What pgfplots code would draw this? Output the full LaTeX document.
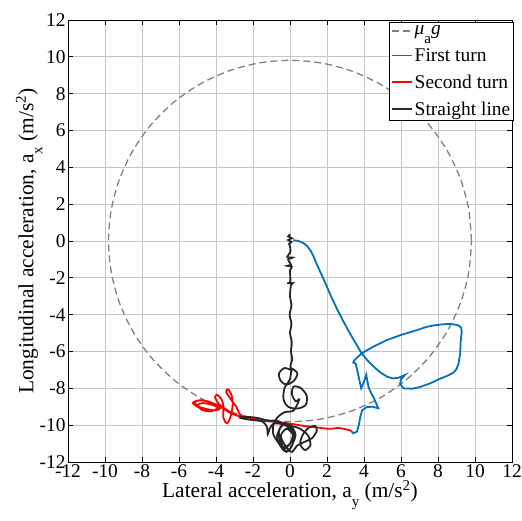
\documentclass[border=0pt]{standalone}
\usepackage{pgfplots}
\pgfplotsset{compat=1.18}
\usepackage{fontspec}
\setmainfont{Liberation Serif}
\definecolor{mblue}{rgb}{0,0.447,0.741}
\definecolor{mblack}{rgb}{0.15,0.15,0.15}
\newcommand{\msub}[1]{\raisebox{-0.42em}{\fontsize{15}{15}\selectfont #1}}
\pgfplotsset{
  my legend line/.style={legend image code/.code={\draw[##1] (0bp,0bp) -- (20bp,0bp);}},
}
\begin{document}
\begin{tikzpicture}[x=1bp,y=1bp]
\useasboundingbox (-68,-59) rectangle (454,462);
\begin{axis}[
  at={(0,0)}, anchor=south west,
  width=444bp, height=442bp, scale only axis,
  xmin=-12, xmax=12, ymin=-12, ymax=12,
  xtick={-12,-10,...,12}, ytick={-12,-10,...,12},
  xticklabels={-12,-10,-8,-6,-4,-2,0,2,4,6,8,10,12},
  yticklabels={-12,-10,-8,-6,-4,-2,0,2,4,6,8,10,12},
  grid=major, major grid style={black!22, line width=0.7pt},
  tick align=inside, major tick length=5bp,
  axis line style={black, line width=0.7pt},
  tick style={black, line width=0.7pt},
  ticklabel style={font=\fontsize{19.5}{20}\selectfont},
  xticklabel style={yshift=1bp},
  yticklabel style={xshift=1bp},
  xlabel={Lateral acceleration, a\msub{y} (m/s\textsuperscript{2})},
  ylabel={Longitudinal acceleration, a\msub{x} (m/s\textsuperscript{2})},
  label style={font=\fontsize{21.5}{23}\selectfont},
  xlabel style={at={(axis description cs:0.5,-0.0814)}, anchor=base},
  ylabel style={at={(axis description cs:-0.078,0.5)}, anchor=base, rotate=0},
  legend style={at={(1,1)}, anchor=north east, xshift=2bp, yshift=-2bp, draw=black, fill=white, line width=0.6pt, font=\fontsize{19.5}{21}\selectfont, inner sep=1.5pt, row sep=8bp, cells={anchor=west}},
  my legend line,
]
\addlegendimage{black!50, dash pattern=on 7bp off 4bp, line width=1.3pt}
\addlegendentry{\textit{μ}\msub{a}\textit{g}}
\addlegendimage{draw=mblue, line width=1.8pt}
\addlegendentry{First turn}
\addlegendimage{draw=red, line width=1.8pt}
\addlegendentry{Second turn}
\addlegendimage{draw=mblack, line width=1.8pt}
\addlegendentry{Straight line}
\addplot[forget plot, black!50, dash pattern=on 7bp off 4bp, line width=1.3pt, smooth] coordinates {
(9.81,0) (9.661,1.703) (9.218,3.355) (8.496,4.905) (7.515,6.306) (6.306,7.515) (4.905,8.496) (3.355,9.218) (1.703,9.661) (0,9.81)
(-1.703,9.661) (-3.355,9.218) (-4.905,8.496) (-6.306,7.515) (-7.515,6.306) (-8.496,4.905) (-9.218,3.355) (-9.661,1.703) (-9.81,0)
(-9.661,-1.703) (-9.218,-3.355) (-8.496,-4.905) (-7.515,-6.306) (-6.306,-7.515) (-4.905,-8.496) (-3.355,-9.218) (-1.703,-9.661) (0,-9.81)
(1.703,-9.661) (3.355,-9.218) (4.905,-8.496) (6.306,-7.515) (7.515,-6.306) (8.496,-4.905) (9.218,-3.355) (9.661,-1.703) (9.81,0)};
\addplot[forget plot, color=mblue, line width=1.8pt] coordinates {
(0.18,0.05) (0.45,0.0) (0.7,-0.1) (0.9,-0.25) (1.1,-0.5) (1.25,-0.8) (1.4,-1.15) (1.6,-1.6) (1.85,-2.15) (2.15,-2.85) (2.5,-3.6) (2.85,-4.3) (3.2,-4.95) (3.55,-5.55) (3.87,-6.10) (4.2,-6.5) (4.55,-6.85) (4.9,-7.15) (5.25,-7.37) (5.55,-7.46) (5.85,-7.43) (6.22,-7.27)
(6.0,-7.5) (5.95,-7.75) (6.13,-8.0) (6.6,-8.02) (7.03,-7.93) (7.6,-7.72) (8.11,-7.48) (8.5,-7.32) (8.83,-7.15) (9.0,-6.95) (9.1,-6.7) (9.15,-6.4) (9.2,-6.1) (9.22,-5.5) (9.28,-4.95) (9.25,-4.7) (9.1,-4.58) (8.7,-4.5) (8.29,-4.52) (7.8,-4.58) (7.39,-4.66) (6.67,-4.9) (6.0,-5.1) (5.23,-5.38) (4.5,-5.74) (3.87,-6.10)
(3.5,-6.45) (3.42,-6.6) (3.55,-6.65) (3.65,-7.1) (3.75,-7.55) (3.85,-8.0) (3.95,-7.75) (4.05,-7.5) (4.12,-7.27) (4.18,-7.6) (4.25,-7.95) (4.38,-8.25) (4.52,-8.5) (4.65,-8.8) (4.77,-9.08) (4.45,-9.0) (4.14,-9.02) (3.9,-9.2) (3.8,-9.54) (3.72,-9.99) (3.62,-10.35) (3.42,-10.44) (3.3,-10.3)};
\addplot[forget plot, color=red, line width=1.8pt, smooth, tension=0.5] coordinates {
(3.3,-10.3) (3.0,-10.22) (2.6,-10.15) (2.2,-10.2) (1.8,-10.17) (1.3,-10.1) (0.8,-10.05) (0.4,-9.98) (0.0,-9.92) (-0.5,-9.85) (-1.0,-9.8) (-1.4,-9.78) (-1.8,-9.7) (-2.2,-9.6) (-2.5,-9.6)
(-2.75,-9.35) (-2.9,-9.0) (-3.2,-8.6) (-3.45,-8.2) (-3.35,-8.05) (-3.15,-8.4) (-3.1,-8.9) (-3.2,-9.5) (-3.4,-9.9) (-3.6,-9.6) (-3.6,-9.0) (-3.7,-8.6) (-3.95,-8.35) (-4.05,-8.5) (-3.8,-8.9) (-3.3,-9.3) (-2.8,-9.5) (-3.2,-9.3) (-3.7,-9.0) (-4.2,-8.8) (-4.7,-8.65) (-5.1,-8.7) (-5.05,-8.95) (-4.6,-9.1) (-4.1,-9.2) (-3.8,-9.1) (-4.2,-8.9) (-4.7,-8.8) (-5.0,-8.9) (-4.8,-9.15) (-4.3,-9.25) (-3.9,-9.05) (-4.3,-8.75) (-4.9,-8.65) (-5.25,-8.8) (-4.9,-9.05) (-4.4,-9.2)};
\addplot[forget plot, color=mblack, line width=1.8pt, smooth, tension=0.5] coordinates {
(0.02,0.35) (-0.1,0.25) (0.1,0.15) (-0.1,0.05) (0.08,-0.05) (-0.05,-0.15) (0.0,-0.3) (0.02,-0.6) (-0.15,-0.87) (0.15,-0.9) (-0.1,-1.0) (0.0,-1.2) (0.05,-1.3) (-0.15,-1.35) (0.1,-1.4) (0.0,-1.6) (0.02,-2.0) (0.0,-2.25) (-0.15,-2.3) (0.15,-2.28) (0.05,-2.4) (0.0,-3.0) (0.08,-3.5) (-0.02,-4.0) (0.08,-4.5) (0.0,-5.0) (0.1,-5.5) (0.05,-6.0) (0.12,-6.4) (0.02,-6.8) (0.08,-7.0)
(-0.3,-6.9) (-0.6,-7.2) (-0.5,-7.6) (-0.2,-7.8) (0.2,-7.6) (0.4,-7.2) (0.1,-6.95) (0.0,-7.5) (-0.3,-8.0) (-0.35,-8.6) (-0.1,-9.0) (0.4,-9.1) (0.85,-8.9) (0.9,-8.4) (0.6,-8.0) (0.2,-7.9) (0.1,-8.3) (0.3,-8.7) (0.5,-8.6)
(0.2,-9.2) (-0.3,-9.3) (-0.7,-9.6) (-0.9,-10.0) (-0.9,-10.5) (-0.6,-11.0) (-0.3,-11.4) (0.0,-11.3) (0.2,-10.8) (0.1,-10.2) (-0.3,-9.9) (-0.6,-10.3) (-0.5,-10.9) (-0.2,-11.45) (0.1,-11.1) (0.3,-10.5) (0.0,-10.0) (-0.4,-10.0) (-0.7,-10.6) (-0.4,-11.2) (0.0,-11.0) (0.2,-10.4)
(-0.6,-9.8) (-1.2,-9.75) (-1.8,-9.6) (-2.4,-9.55) (-2.7,-9.6) (-2.2,-9.7) (-1.5,-9.8) (-1.25,-10.1) (-1.2,-10.5) (-1.1,-10.2) (-0.8,-9.9)
(0.3,-10.1) (0.7,-10.3) (1.0,-10.6) (1.1,-11.1) (0.8,-11.35) (0.55,-11.0) (0.7,-10.5) (1.0,-10.15) (1.35,-10.05) (1.45,-10.3) (1.2,-10.7) (0.8,-10.9) (0.4,-11.1) (0.1,-11.45) (-0.2,-11.2) (-0.5,-10.6) (-0.2,-10.2) (0.15,-10.5) (0.0,-11.0) (-0.3,-11.3)};
\end{axis}
\end{tikzpicture}
\end{document}
